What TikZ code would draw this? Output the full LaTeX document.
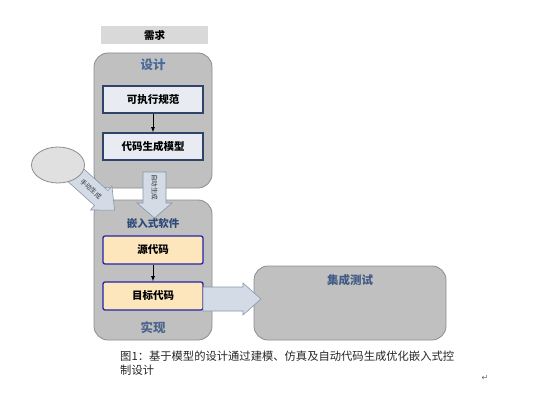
\documentclass[tikz,border=0pt]{standalone}
\usepackage{fontspec}
\setmainfont{Noto Sans CJK SC}
\newfontfamily\symfont{DejaVu Sans}
\usetikzlibrary{shapes.geometric}
\definecolor{bigfill}{HTML}{C0C0C0}
\definecolor{bigline}{HTML}{8C8C98}
\definecolor{specfill}{HTML}{E8ECF2}
\definecolor{specline}{HTML}{2F4468}
\definecolor{codefill}{HTML}{FDE6BC}
\definecolor{codeline}{HTML}{2424A8}
\definecolor{arrfill}{HTML}{D3DCE6}
\definecolor{arrline}{HTML}{8A96A6}
\definecolor{titleblue}{HTML}{4A6A9C}
\definecolor{darkblue}{HTML}{2E4A78}
\definecolor{reqfill}{HTML}{D9D9D9}
\tikzset{
  bigbox/.style={draw=bigline, fill=bigfill, line width=0.8pt, rounded corners=14pt},
  specbox/.style={draw=specline, fill=specfill, line width=1.3pt, minimum width=100pt, minimum height=27pt, inner sep=0pt, font=\fontsize{10.5}{12}\selectfont\bfseries},
  codebox/.style={draw=codeline, fill=codefill, line width=1.3pt, rounded corners=2pt, minimum width=100pt, minimum height=28pt, inner sep=0pt, font=\fontsize{10.5}{12}\selectfont\bfseries},
  fatarrow/.style={draw=arrline, fill=arrfill, line width=0.6pt, line join=miter},
  thin/.style={-latex, line width=0.8pt, black},
  title/.style={font=\fontsize{12.5}{14}\selectfont\bfseries, text=titleblue, inner sep=0pt},
  arrlabel/.style={font=\fontsize{6.5}{7}\selectfont, text=black!80, inner sep=0pt}
}
\begin{document}
\begin{tikzpicture}[x=1pt,y=-1pt]
\useasboundingbox (0,0) rectangle (544,420);
% requirement
\node[fill=reqfill, minimum width=107pt, minimum height=18pt, inner sep=0pt, font=\fontsize{10.5}{12}\selectfont\bfseries] (req) at (154.5,35) {需求};
% big boxes
\path[bigbox] (94,53) rectangle (212,188);
\node[title] (design) at (153,65) {设计};
\path[bigbox] (94,200) rectangle (212,340);
\node[font=\fontsize{10.5}{12}\selectfont\bfseries, text=darkblue, inner sep=0pt] (emb) at (153,223) {嵌入式软件};
\node[title, text=darkblue!85] (impl) at (153,328) {实现};
\path[bigbox] (254,266) rectangle (446,340);
\node[font=\fontsize{11.5}{13}\selectfont\bfseries, text=darkblue!90, inner sep=0pt] (test) at (350,280) {集成测试};
% inner boxes
\node[specbox] (spec) at (153,99.5) {可执行规范};
\node[specbox] (model) at (153,146.5) {代码生成模型};
\draw[thin] (spec) -- (model);
\node[codebox] (src) at (153,250) {源代码};
\node[codebox] (obj) at (153,296) {目标代码};
\draw[thin] (src) -- (obj);
% vertical fat arrow
\draw[fatarrow] (143,172) -- (166,172) -- (166,203) -- (172,203) -- (154.5,218) -- (137,203) -- (143,203) -- cycle;
\node[arrlabel, rotate=-90] (autogen) at (154.5,187) {自动生成};
% diagonal fat arrow
\begin{scope}[shift={(70,170)}, rotate=-42]
\draw[fatarrow] (0,-10) -- (42,-10) -- (42,-16) -- (60,0) -- (42,16) -- (42,10) -- (0,10) -- cycle;
\end{scope}
\node[arrlabel, rotate=-42] (mangen) at (91,189) {手动生成};
% ellipse
\node[ellipse, draw=black!45, fill=black!12, line width=0.8pt, minimum width=53pt, minimum height=36pt] (src0) at (58,165) {};
% right fat arrow
\draw[fatarrow] (203,287) -- (243,287) -- (243,283) -- (261,299) -- (243,315) -- (243,311) -- (203,311) -- cycle;
% caption
\node[anchor=north west, align=left, inner sep=0pt, text=black!85, font=\fontsize{11.3}{14}\selectfont] (cap) at (120,351) {图1：基于模型的设计通过建模、仿真及自动代码生成优化嵌入式控\\制设计};
\node[text=black!60, inner sep=0pt, font=\symfont\fontsize{8}{9}\selectfont] (ret) at (485,378) {↵};
\end{tikzpicture}
\end{document}
